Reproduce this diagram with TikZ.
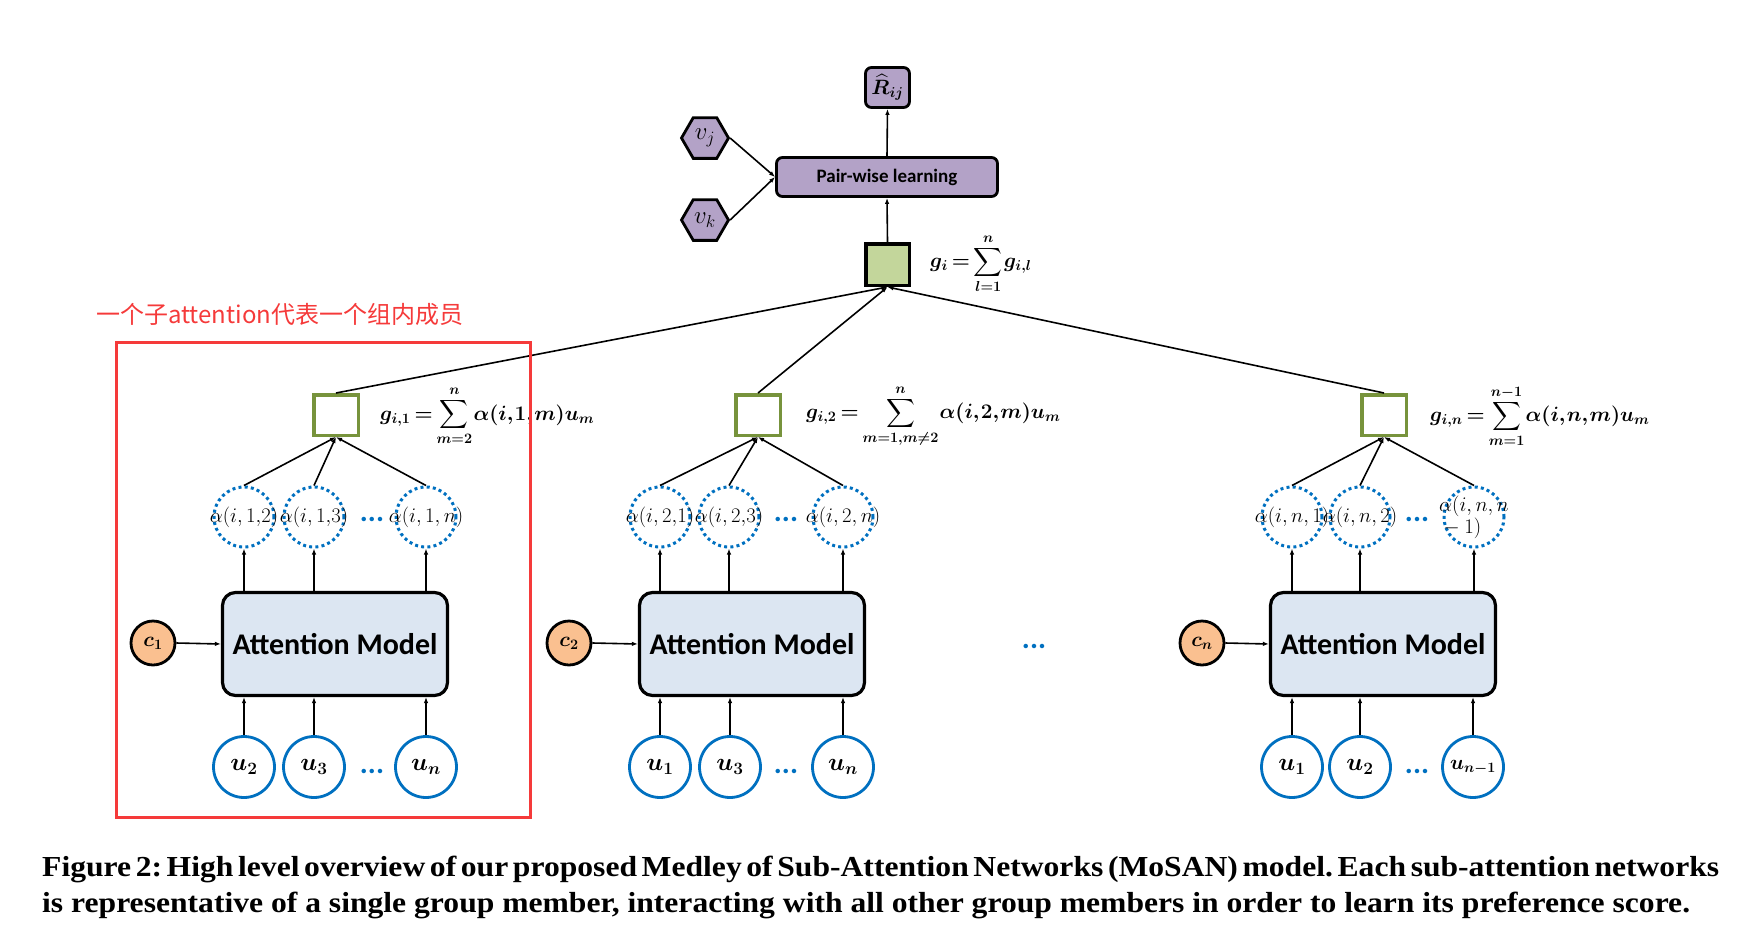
\documentclass[tikz,border=0pt]{standalone}
\usepackage{amsmath}
\usepackage{amssymb}
\usepackage{fontspec}
\usepackage{tikz}
\usepackage{color}
\usetikzlibrary{shapes.geometric,arrows.meta}

\newfontfamily\calibri{Carlito}
\newfontfamily\cjk{Noto Sans CJK SC}
\newfontfamily\capfont[FakeStretch=1.09]{Liberation Serif}
\newcommand{\sz}[1]{\fontsize{#1}{#1}\selectfont}
\newcommand{\tightmath}{\thinmuskip=1mu\relax\medmuskip=2mu\relax\thickmuskip=3mu\relax}

\definecolor{ublue}{RGB}{0,112,192}
\definecolor{ogreen}{RGB}{119,147,60}
\definecolor{lgreen}{RGB}{195,214,155}
\definecolor{lpurple}{RGB}{179,162,199}
\definecolor{lorange}{RGB}{250,192,144}
\definecolor{lblue}{RGB}{220,230,242}
\definecolor{notered}{RGB}{245,58,58}

\begin{document}
\begin{tikzpicture}[x=1pt, y=-1pt, >={Latex[length=6pt,width=4.5pt]},
    user/.style={circle, draw=ublue, line width=2.8pt, minimum size=61pt, inner sep=0pt, font=\sz{23}\boldmath},
    weight/.style={circle, draw=ublue, line width=3pt, dash pattern=on 3pt off 3.2pt, minimum size=60pt, inner sep=0pt},
    every label/.style={font=\sz{20}, inner sep=0pt},
    context/.style={circle, draw, fill=lorange, line width=2.8pt, minimum size=44pt, inner sep=0pt, font=\sz{22}\boldmath},
    attbox/.style={draw, fill=lblue, line width=3.2pt, rounded corners=13pt, minimum width=225pt, minimum height=103pt, font=\calibri\bfseries\sz{30}},
    member/.style={draw=ogreen, line width=3.5pt, minimum width=44.5pt, minimum height=40.5pt, inner sep=0pt},
    formula/.style={anchor=west, inner sep=0pt, font=\sz{20}\boldmath\tightmath},
    purplebox/.style={draw, fill=lpurple, line width=2.8pt, rounded corners=6pt, inner sep=0pt},
    item/.style={regular polygon, regular polygon sides=6, draw, fill=lpurple, line width=2.8pt, minimum size=47pt, inner sep=0pt, font=\sz{24}},
    dots/.style={text=ublue, inner sep=0pt, font=\calibri\bfseries\sz{30}},
    caption/.style={anchor=base west, inner sep=0pt, font=\capfont\bfseries\sz{29}\frenchspacing},
    link/.style={->, line width=1.6pt}]
    \useasboundingbox (0,0) rectangle (1738,924);

    % Top: pair-wise learning
    \node[purplebox, minimum width=44pt, minimum height=40pt, font=\sz{21}\boldmath] (rij) at (887.5,87.5) {$\widehat{R}_{ij}$};
    \node[purplebox, minimum width=221pt, minimum height=39pt, font=\calibri\bfseries\sz{19}] (pair) at (887,177) {Pair-wise learning};
    \node[item] (vj) at (705,138) {$v_j$};
    \node[item] (vk) at (705,220) {$v_k$};
    \node[draw, fill=lgreen, line width=3.5pt, minimum width=43.5pt, minimum height=41.5pt] (gsum) at (887.5,264.5) {};
    \node[formula] (fsum) at (930,264) {$\displaystyle g_{i} = \sum_{l=1}^{n} g_{i,l}$};
    \draw[link] (gsum.north) -- (pair.south);
    \draw[link] (pair.north) -- (rij.south);
    \draw[link] (vj.east) -- (pair.west);
    \draw[link] (vk.east) -- (pair.west);

    % Group member 1
    \node[attbox] (att1) at (335,644) {Attention Model};
    \node[context] (c1) at (153,643) {$c_1$};
    \node[user] (u11) at (244,767) {$u_2$};
    \node[user] (u12) at (314,767) {$u_3$};
    \node[user] (u13) at (426,767) {$u_n$};
    \node[dots] (ud1) at (372,771) {...};
    \node[weight, label={center:{$\alpha(i,1{,}2)$}}] (a11) at (244,517) {};
    \node[weight, label={center:{$\alpha(i,1{,}3)$}}] (a12) at (314,517) {};
    \node[weight, label={center:{$\alpha(i,1,n)$}}] (a13) at (426,517) {};
    \node[dots] (ad1) at (372,519) {...};
    \node[member] (sq1) at (336,415) {};
    \node[formula] (f1) at (380,416) {$\displaystyle g_{i,1} = \sum_{m=2}^{n} \alpha(i,1,m)u_m$};

    % Group member 2
    \node[attbox] (att2) at (752,644) {Attention Model};
    \node[context] (c2) at (569,643) {$c_2$};
    \node[user] (u21) at (660,767) {$u_1$};
    \node[user] (u22) at (730,767) {$u_3$};
    \node[user] (u23) at (843,767) {$u_n$};
    \node[dots] (ud2) at (786,771) {...};
    \node[weight, label={center:{$\alpha(i,2{,}1)$}}] (a21) at (660,517) {};
    \node[weight, label={center:{$\alpha(i,2{,}3)$}}] (a22) at (729,517) {};
    \node[weight, label={center:{$\alpha(i,2,n)$}}] (a23) at (843,517) {};
    \node[dots] (ad2) at (786,519) {...};
    \node[member] (sq2) at (758,415) {};
    \node[formula] (f2) at (806,416) {$\displaystyle g_{i,2} = \sum_{m=1,m\neq 2}^{n} \alpha(i,2,m)u_m$};

    \node[dots] (gdots) at (1034,646) {...};

    % Group member n
    \node[attbox] (att3) at (1383,644) {Attention Model};
    \node[context] (c3) at (1202,643) {$c_n$};
    \node[user] (u31) at (1292,767) {$u_1$};
    \node[user] (u32) at (1360,767) {$u_2$};
    \node[user, font=\sz{20}\boldmath] (u33) at (1473,767) {$u_{n{-}1}$};
    \node[dots] (ud3) at (1417,771) {...};
    \node[weight, label={center:{$\alpha(i,n,1)$}}] (a31) at (1292,517) {};
    \node[weight, label={center:{$\alpha(i,n,2)$}}] (a32) at (1360,517) {};
    \node[weight, label={[align=left]center:{$\alpha(i,n,n$\\${}-1)$}}] (a33) at (1474,517) {};
    \node[dots] (ad3) at (1417,519) {...};
    \node[member] (sq3) at (1384,415) {};
    \node[formula] (f3) at (1430,416) {$\displaystyle g_{i,n} = \sum_{m=1}^{n-1} \alpha(i,n,m)u_m$};

    % Connections inside each group
    \foreach \g in {1,2,3} {
        \draw[link] (c\g.east) -- (att\g.west);
        \foreach \k in {1,2,3} {
            \draw[link] (u\g\k.north) -- (u\g\k |- att\g.south);
            \draw[link] (a\g\k |- att\g.north) -- (a\g\k.south);
            \draw[link] (a\g\k.north) -- (sq\g.south);
        }
        \draw[link] (sq\g.north) -- (gsum.south);
    }

    % Annotation
    \node[draw=notered, line width=3pt, minimum width=414pt, minimum height=475pt] (box) at (323.5,580) {};
    \node[anchor=base west, inner sep=0pt, text=notered, font=\cjk\sz{24}] (note) at (96,323) {一个子attention代表一个组内成员};

    % Caption
    \node[caption] (cap1) at (42,876)
        {\spaceskip=.2em plus .4em minus .05em\relax\makebox[1677pt][s]{Figure 2: High level overview of our proposed Medley of Sub-Attention Networks (MoSAN) model. Each sub-attention networks}};
    \node[caption] (cap2) at (42,912)
        {is representative of a single group member, interacting with all other group members in order to learn its preference score.};
\end{tikzpicture}
\end{document}
